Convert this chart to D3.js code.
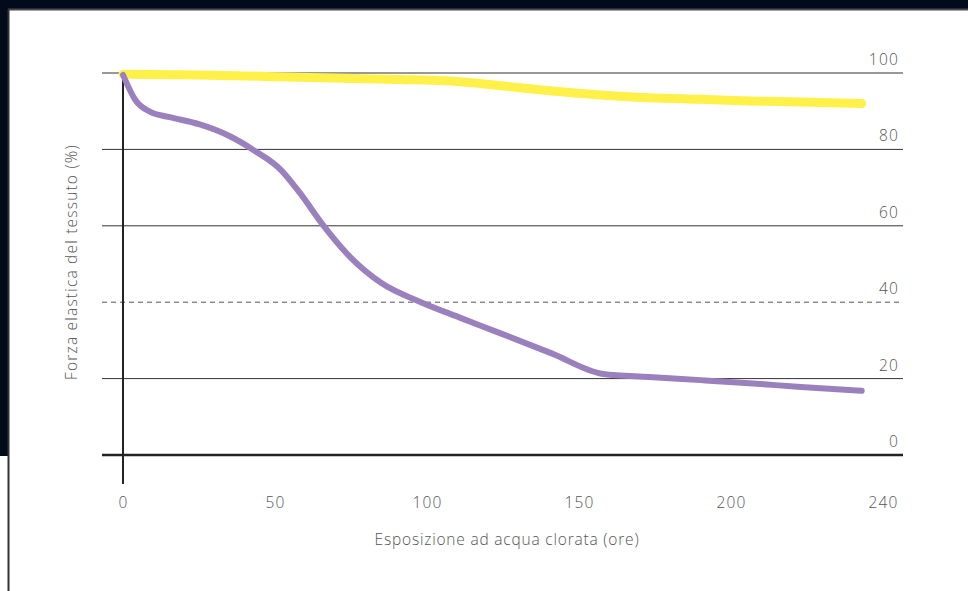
<!DOCTYPE html>
<html>
<head>
<meta charset="utf-8">
<script src="https://cdn.jsdelivr.net/npm/d3@7"></script>
<style>
  html, body { margin: 0; padding: 0; background: #fff; }
  svg { display: block; }
</style>
</head>
<body>
<div id="chart"></div>
<script>
// data
const hours = [0, 4, 9, 15, 25, 35, 43, 52, 58, 66, 75, 85, 98, 111, 124, 141, 158, 173, 190, 206, 223, 243];
const forzaViola = [99.5, 93, 89.8, 88.5, 86.6, 83.5, 79.8, 74.6, 68.8, 60, 51.6, 45, 40, 35.9, 31.9, 26.6, 21.2, 20.4, 19.6, 18.8, 17.8, 16.8];
const hoursGiallo = [0, 25, 58, 91, 106, 118, 130, 142, 156, 173, 190, 206, 223, 243];
const forzaGiallo = [99.7, 99.5, 98.9, 98.3, 98.0, 97.2, 96.2, 95.2, 94.3, 93.5, 93.1, 92.7, 92.4, 92.0];
const yTicks = [0, 20, 40, 60, 80, 100];
const xTicks = [0, 50, 100, 150, 200, 250];
const xTickLabels = ['0', '50', '100', '150', '200', '240'];

const width = 968;
const height = 591;
const font = '"Open Sans", sans-serif';

const svg = d3.select('#chart').append('svg')
    .attr('width', width)
    .attr('height', height);

// dark frame around the top / left
svg.append('rect').attr('x', 0).attr('y', 0).attr('width', width).attr('height', 9).attr('fill', '#020b1c');
svg.append('rect').attr('x', 0).attr('y', 0).attr('width', 8).attr('height', 456).attr('fill', '#020b1c');
svg.append('line').attr('x1', 8).attr('x2', width).attr('y1', 9.5).attr('y2', 9.5)
    .attr('stroke', '#4a4a4a').attr('stroke-width', 2);
svg.append('line').attr('x1', 8.5).attr('x2', 8.5).attr('y1', 9).attr('y2', height)
    .attr('stroke', '#333').attr('stroke-width', 2);

const x = d3.scaleLinear().domain([0, 250]).range([123, 883]);
const y = d3.scaleLinear().domain([0, 100]).range([455, 73]);

const gridLeft = 102, gridRight = 903;

// horizontal grid lines
const grid = svg.append('g');
grid.selectAll('line')
    .data(yTicks)
    .join('line')
    .attr('x1', gridLeft)
    .attr('x2', gridRight)
    .attr('y1', d => y(d))
    .attr('y2', d => y(d))
    .attr('stroke', d => d === 0 ? '#222' : (d === 40 ? '#555' : '#333'))
    .attr('stroke-width', d => d === 0 ? 2.5 : 1)
    .attr('stroke-dasharray', d => d === 40 ? '5,4' : null);

// y tick labels, on the right above each line
grid.selectAll('text')
    .data(yTicks)
    .join('text')
    .attr('x', 899)
    .attr('y', d => y(d) - 8)
    .attr('text-anchor', 'end')
    .attr('fill', '#555')
    .attr('font-size', 15.5)
    .style('font-family', font)
    .style('font-weight', 300)
    .style('letter-spacing', '1.2px')
    .text(d => d);

// vertical axis line
svg.append('line')
    .attr('x1', x(0)).attr('x2', x(0))
    .attr('y1', y(100)).attr('y2', 484)
    .attr('stroke', '#222')
    .attr('stroke-width', 2);

// x axis tick labels
const xAxis = d3.axisBottom(x)
    .tickValues(xTicks)
    .tickSize(0)
    .tickPadding(0)
    .tickFormat((d, i) => xTickLabels[i]);

const gx = svg.append('g')
    .attr('transform', 'translate(0,497)')
    .call(xAxis);
gx.select('.domain').remove();
gx.selectAll('text')
    .attr('fill', '#555')
    .attr('font-size', 15.5)
    .style('font-family', font)
    .style('font-weight', 300)
    .style('letter-spacing', '1.2px');

// axis titles
svg.append('text')
    .attr('x', 507)
    .attr('y', 545)
    .attr('text-anchor', 'middle')
    .attr('fill', '#555')
    .attr('font-size', 15.5)
    .style('font-family', font)
    .style('font-weight', 300)
    .style('letter-spacing', '0.8px')
    .text('Esposizione ad acqua clorata (ore)');

svg.append('text')
    .attr('transform', 'translate(77,262) rotate(-90)')
    .attr('text-anchor', 'middle')
    .attr('fill', '#555')
    .attr('font-size', 15.5)
    .style('font-family', font)
    .style('font-weight', 300)
    .style('letter-spacing', '1.2px')
    .text('Forza elastica del tessuto (%)');

// lines
const line = d3.line()
    .x(d => x(d[0]))
    .y(d => y(d[1]))
    .curve(d3.curveMonotoneX);

svg.append('path')
    .datum(hoursGiallo.map((h, i) => [h, forzaGiallo[i]]))
    .attr('d', line)
    .attr('fill', 'none')
    .attr('stroke', '#fff04a')
    .attr('stroke-width', 9)
    .attr('stroke-linecap', 'round');

svg.append('path')
    .datum(hours.map((h, i) => [h, forzaViola[i]]))
    .attr('d', line)
    .attr('fill', 'none')
    .attr('stroke', '#9b80be')
    .attr('stroke-width', 6)
    .attr('stroke-linecap', 'round');
</script>
</body>
</html>
